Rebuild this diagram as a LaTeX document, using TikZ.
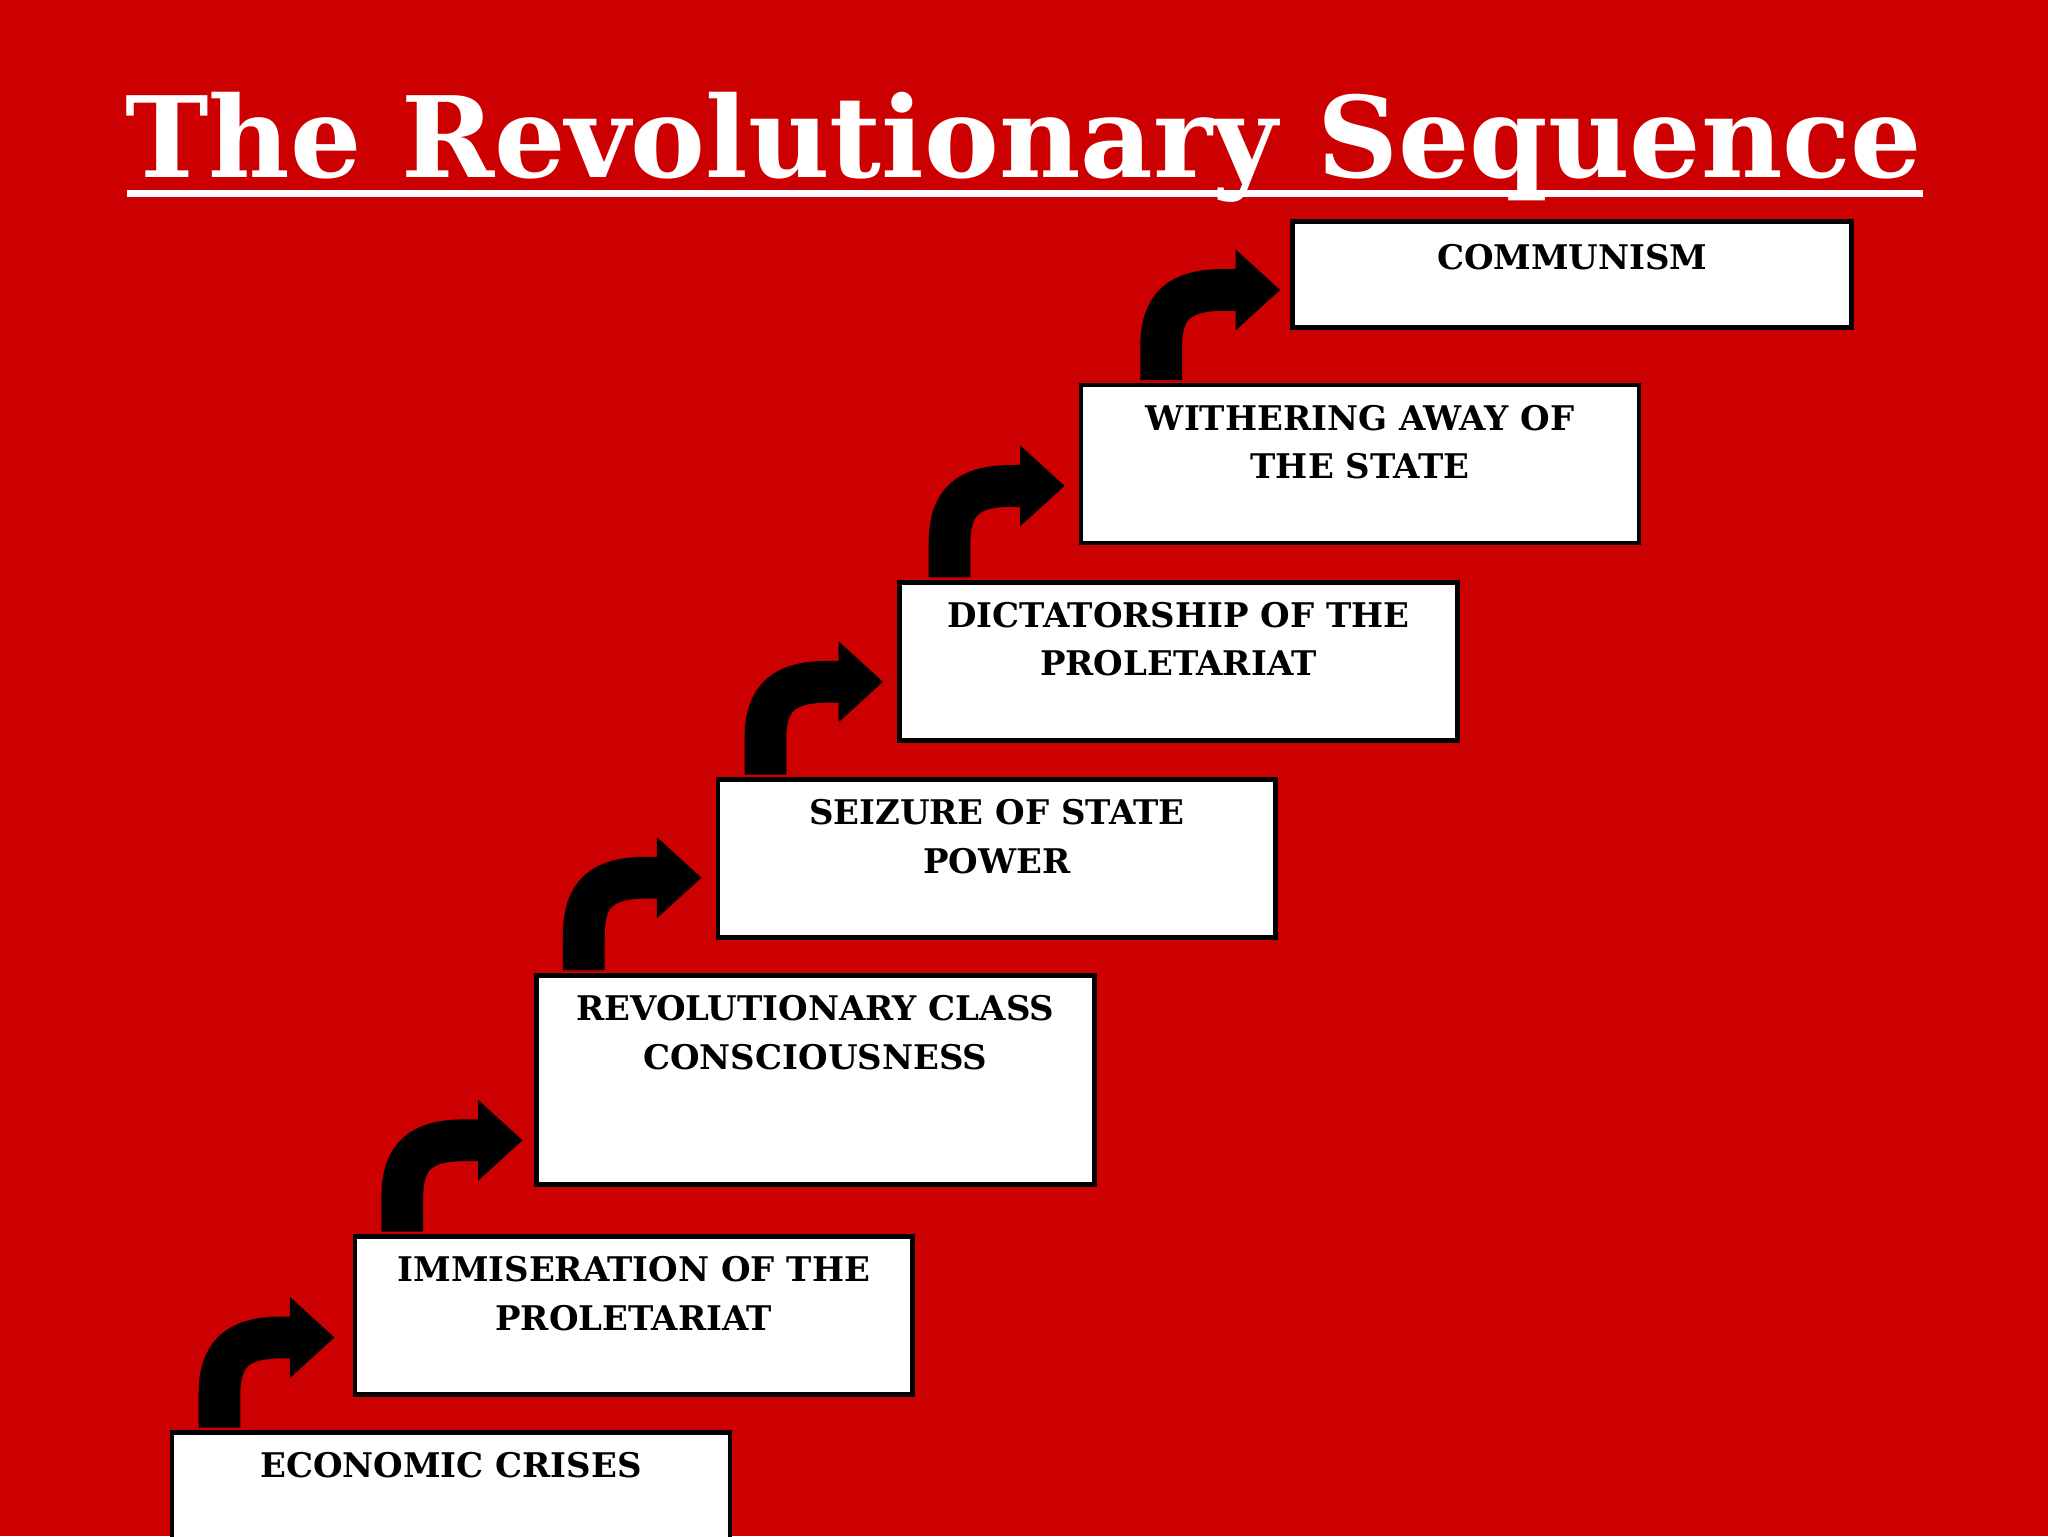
\documentclass[tikz,border=0pt]{standalone}
\usepackage{fontspec}
\usepackage{graphicx}
\setmainfont{DejaVu Serif}
\usetikzlibrary{calc}
\definecolor{bg}{HTML}{CC0000}
\tikzset{
  box/.style={draw=black,line width=3.5pt,fill=white,anchor=north west,minimum width=427pt,minimum height=121pt,inner sep=0pt},
  lbl/.style={anchor=north,align=center,font=\bfseries\fontsize{26}{37}\selectfont,inner sep=0pt},
  shaft/.style={line width=32pt,black},
}
\newcommand{\stepArrow}[4]{% s, yb, xt, yt
  \draw[shaft] (#1,#2) -- (#1,#4+44) .. controls (#1,#4+12) and (#1+14,#4) .. (#1+48,#4) -- (#3-32,#4);
  \fill[black] (#3-34,#4-31) -- (#3,#4) -- (#3-34,#4+31) -- cycle;
}
\begin{document}
\begin{tikzpicture}[x=1pt,y=-1pt]
\fill[bg] (0,0) rectangle (1568,1176);
\useasboundingbox (0,0) rectangle (1568,1176);
\node[anchor=base,inner sep=0pt,text=white] (title) at (784,136) {\resizebox{1375pt}{!}{\bfseries The Revolutionary Sequence}};
\draw[white,line width=5pt] (97,148) -- (1472,148);

\node[box,minimum height=110pt] (b1) at (130,1095) {};
\node[box] (b2) at (270,945) {};
\node[box,minimum height=160pt] (b3) at (409,745) {};
\node[box] (b4) at (548,595) {};
\node[box] (b5) at (687,444) {};
\node[box] (b6) at (826,293) {};
\node[box,minimum height=81pt,minimum width=428pt] (b7) at (988,168) {};

\node[lbl] (t1) at ($(b1.north)+(0,17)$) {ECONOMIC CRISES};
\node[lbl] (t2) at ($(b2.north)+(0,17)$) {IMMISERATION OF THE\\PROLETARIAT};
\node[lbl] (t3) at ($(b3.north)+(0,17)$) {REVOLUTIONARY CLASS\\CONSCIOUSNESS};
\node[lbl] (t4) at ($(b4.north)+(0,17)$) {SEIZURE OF STATE\\POWER};
\node[lbl] (t5) at ($(b5.north)+(0,17)$) {DICTATORSHIP OF THE\\PROLETARIAT};
\node[lbl] (t6) at ($(b6.north)+(0,17)$) {WITHERING AWAY OF\\THE STATE};
\node[lbl] (t7) at ($(b7.north)+(0,19)$) {COMMUNISM};

\stepArrow{168}{1093}{256}{1024}
\stepArrow{308}{943}{400}{873}
\stepArrow{447}{743}{537}{672}
\stepArrow{586}{593}{676}{522}
\stepArrow{727}{442}{815}{372}
\stepArrow{889}{291}{980}{222}
\end{tikzpicture}
\end{document}
